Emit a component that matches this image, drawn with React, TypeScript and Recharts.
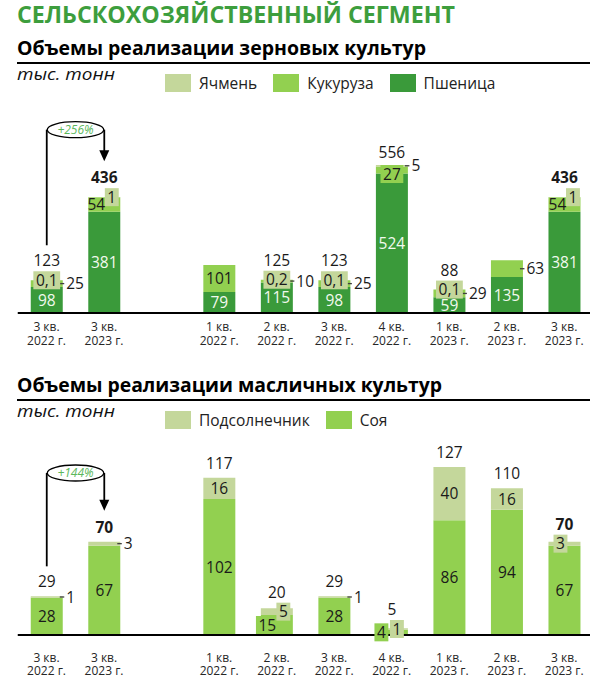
import React from "react";
import { Bar, BarChart, LabelList, XAxis, YAxis } from "recharts";

// ---- values (thousand tonnes) ----
const quarters = ["3 кв.", "3 кв.", "", "1 кв.", "2 кв.", "3 кв.", "4 кв.", "1 кв.", "2 кв.", "3 кв."];
const years = ["2022 г.", "2023 г.", "", "2022 г.", "2022 г.", "2022 г.", "2022 г.", "2023 г.", "2023 г.", "2023 г."];

const wheat = [98, 381, null, 79, 115, 98, 524, 59, 135, 381];
const corn = [25, 54, null, 101, 10, 25, 27, 29, 63, 54];
const barley = [0.1, 1, null, 0, 0.2, 0.1, 5, 0.1, 0, 1];
const grainTotals = [123, 436, null, 180, 125, 123, 556, 88, 198, 436];

const soy = [28, 67, null, 102, 15, 28, 4, 86, 94, 67];
const sunflower = [1, 3, null, 16, 5, 1, 1, 40, 16, 3];
const oilTotals = [29, 70, null, 117, 20, 29, 5, 127, 110, 70];

const grainGrowth = "+256%";
const oilGrowth = "+144%";

// ---- look ----
const FONT = '"Open Sans", "DejaVu Sans", sans-serif';
const C_TITLE = "#3d9e3d";
const C_WHEAT = "#3a9a3a";
const C_CORN = "#92d050";
const C_PALE = "#c4d79b";
const C_NOTE = "#5cb85c";
const INK = "#1a1a1a";

const CHART_W = 593; // last band runs a few px past the page edge, clipped
const MARGIN_L = 17.75;
const STEP = (CHART_W - MARGIN_L) / quarters.length;
const BAR_W = 32;
const BOX_H = 18;
const FS = 15.5;

type Mode = "in" | "right" | "box" | "none";
interface Spot { m: Mode; dx?: number; dy?: number }
const IN: Spot = { m: "in" };
const RIGHT: Spot = { m: "right" };
const BOX: Spot = { m: "box" };
const NO: Spot = { m: "none" };

// where each segment's value label sits (hand-placed on the slide)
const wheatSpots = quarters.map(() => IN);
const cornSpots: Spot[] = [RIGHT, { m: "in", dx: -8 }, NO, IN, RIGHT, RIGHT, { m: "box", dy: 4 }, RIGHT, RIGHT, { m: "in", dx: -7 }];
const barleySpots: Spot[] = [BOX, { m: "box", dx: 7.5 }, NO, NO, BOX, BOX, RIGHT, BOX, NO, { m: "box", dx: 8.5 }];
const soySpots: Spot[] = [IN, IN, NO, IN, { m: "box", dx: -9.5 }, IN, { m: "box", dx: -10.5 }, IN, IN, IN];
const sunSpots: Spot[] = [RIGHT, RIGHT, NO, IN, { m: "box", dx: 6.5 }, RIGHT, { m: "box", dx: 5 }, IN, IN, { m: "box", dx: -4 }];

interface Series {
  key: string;
  name: string;
  color: string;
  values: (number | null)[];
  spots: Spot[];
  ink: string;
}

interface Cfg {
  top: number; // page y of the chart svg
  height: number;
  axisY: number; // svg y of the category axis
  plotH: number;
  yMax: number;
  series: Series[]; // bottom -> top of the stack
  totals: (number | null)[];
  gap: number;
  bold: number[];
  note: { from: number; to: number; y: number; text: string };
  tick1: number;
  tick2: number;
}

const grainSeries: Series[] = [
  { key: "wheat", name: "Пшеница", color: C_WHEAT, values: wheat, spots: wheatSpots, ink: "#f2f9ee" },
  { key: "corn", name: "Кукуруза", color: C_CORN, values: corn, spots: cornSpots, ink: INK },
  { key: "barley", name: "Ячмень", color: C_PALE, values: barley, spots: barleySpots, ink: INK },
];

const oilSeries: Series[] = [
  { key: "soy", name: "Соя", color: C_CORN, values: soy, spots: soySpots, ink: INK },
  { key: "sunflower", name: "Подсолнечник", color: C_PALE, values: sunflower, spots: sunSpots, ink: INK },
];

const grainCfg: Cfg = {
  top: 95, height: 265, axisY: 218, plotH: 159.6, yMax: 600,
  series: grainSeries, totals: grainTotals, gap: 7, bold: [1, 9],
  note: { from: 0, to: 1, y: 34.7, text: grainGrowth },
  tick1: 17.5, tick2: 31.5,
};

const oilCfg: Cfg = {
  top: 430, height: 260, axisY: 205, plotH: 186.7, yMax: 140,
  series: oilSeries, totals: oilTotals, gap: 9, bold: [1, 9],
  note: { from: 0, to: 1, y: 43, text: oilGrowth },
  tick1: 26.5, tick2: 40,
};

const fmt = (v: number) => String(v).replace(".", ",");
const textW = (s: string) => s.split("").reduce((w, c) => w + (c === "," ? 4 : 8.9), 0);

// label geometry; the category index comes from the bar's band (LabelList skips empty rows)
function geom(props: any) {
  const vb = props.viewBox ?? props;
  const x = Number(vb.x);
  const w = Number(vb.width);
  const top = Math.min(vb.y, vb.y + vb.height);
  const h = Math.abs(vb.height);
  const i = Math.round((x + w / 2 - MARGIN_L) / STEP - 0.5);
  return { x, w, top, h, i };
}

const segLabel = (s: Series) => (props: any) => {
  const { x, w, top, h, i } = geom(props);
  const v = s.values[i];
  const spot = s.spots[i];
  if (v == null || !spot || spot.m === "none" || !isFinite(x)) return null;
  const txt = fmt(v);
  const cx = x + w / 2 + (spot.dx ?? 0);
  const cy = top + h / 2 + (spot.dy ?? 0);
  if (spot.m === "right") {
    return (
      <g>
        <line x1={x + w - 3} x2={x + w + 1.5} y1={cy} y2={cy} stroke="#404040" strokeWidth={1.3} />
        <text x={x + w + 3.5} y={cy} dy="0.36em" fontFamily={FONT} fontSize={FS} fill={INK}>{txt}</text>
      </g>
    );
  }
  if (spot.m === "box") {
    const bw = textW(txt) + 5;
    return (
      <g>
        <rect x={cx - bw / 2} y={cy - BOX_H / 2} width={bw} height={BOX_H} fill={s.color} />
        <text x={cx} y={cy} dy="0.36em" textAnchor="middle" fontFamily={FONT} fontSize={FS} fill={INK}>{txt}</text>
      </g>
    );
  }
  return (
    <text x={cx} y={cy} dy="0.36em" textAnchor="middle" fontFamily={FONT} fontSize={FS} fill={s.ink}>{txt}</text>
  );
};

const totalLabel = (cfg: Cfg) => (props: any) => {
  const { x, w, top, h, i } = geom(props);
  const total = cfg.totals[i];
  if (total == null || !isFinite(x)) return null;
  const spot = cfg.series[cfg.series.length - 1].spots[i];
  const cx = x + w / 2;
  let base = top - cfg.gap;
  if (spot && spot.m === "box") base = Math.min(base, top + h / 2 + (spot.dy ?? 0) - BOX_H / 2 - 5);
  const n = cfg.note;
  const half = (STEP * (n.to - n.from)) / 2;
  const tip = base - 22;
  return (
    <g>
      {i === n.from && <line x1={cx} x2={cx} y1={n.y} y2={base - 21} stroke="#000" strokeWidth={1.8} />}
      {i === n.to && (
        <g>
          <line x1={cx} x2={cx} y1={n.y} y2={tip - 10} stroke="#000" strokeWidth={1.8} />
          <polygon points={`${cx - 5},${tip - 11} ${cx + 5},${tip - 11} ${cx},${tip}`} fill="#000" />
          <ellipse cx={cx - half} cy={n.y} rx={half - 0.5} ry={8} fill="#fff" stroke="#000" strokeWidth={1.3} />
          <text x={cx - half} y={n.y} dy="0.35em" textAnchor="middle" fontFamily={FONT} fontStyle="italic" fontSize={12} fill={C_NOTE}>
            {n.text}
          </text>
        </g>
      )}
      <text x={cx} y={base} textAnchor="middle" fontFamily={FONT} fontSize={FS} fontWeight={cfg.bold.includes(i) ? 700 : 400} fill={INK}>
        {total}
      </text>
    </g>
  );
};

const quarterTick = (cfg: Cfg) => (props: any) => {
  const { x, payload } = props;
  const i = Number(payload.value);
  return (
    <text textAnchor="middle" fontFamily={FONT} fontSize={12} fill="#262626">
      <tspan x={x} y={cfg.axisY + cfg.tick1}>{quarters[i]}</tspan>
      <tspan x={x} y={cfg.axisY + cfg.tick2}>{years[i]}</tspan>
    </text>
  );
};

function StackChart({ cfg }: { cfg: Cfg }) {
  const rows = quarters.map((_, i) => {
    const r: Record<string, number | null> = { id: i };
    cfg.series.forEach((s) => (r[s.key] = s.values[i]));
    return r;
  });
  const last = cfg.series.length - 1;
  return (
    <div style={{ position: "absolute", left: 0, top: cfg.top, width: 590, height: cfg.height, overflow: "hidden" }}>
      <BarChart
        width={CHART_W}
        height={cfg.height}
        data={rows}
        barSize={BAR_W}
        margin={{ top: cfg.axisY - cfg.plotH, right: 0, left: MARGIN_L, bottom: 0 }}
      >
        <XAxis
          dataKey="id"
          height={cfg.height - cfg.axisY}
          interval={0}
          tickLine={false}
          axisLine={{ stroke: "#000", strokeWidth: 2 }}
          tick={quarterTick(cfg)}
        />
        <YAxis hide domain={[0, cfg.yMax]} allowDataOverflow />
        {cfg.series.map((s, k) => (
          <Bar key={s.key} dataKey={s.key} stackId="a" fill={s.color} isAnimationActive={false}>
            <LabelList dataKey={s.key} content={segLabel(s)} />
            {k === last && <LabelList dataKey={s.key} content={totalLabel(cfg)} />}
          </Bar>
        ))}
      </BarChart>
    </div>
  );
}

function Legend({ top, series }: { top: number; series: Series[] }) {
  return (
    <div style={{ position: "absolute", left: 165, top, display: "flex", fontFamily: FONT, fontSize: 15.5, lineHeight: "18px", color: "#222" }}>
      {[...series].reverse().map((s) => (
        <div key={s.key} style={{ display: "flex", marginRight: 16 }}>
          <span style={{ width: 26, height: 18, background: s.color, marginRight: 8 }} />
          <span style={{ whiteSpace: "nowrap" }}>{s.name}</span>
        </div>
      ))}
    </div>
  );
}

function Header({ y0, title, titleW }: { y0: number; title: string; titleW: number }) {
  return (
    <g>
      <text x={17} y={y0 + 55} fontFamily={FONT} fontWeight={700} fontSize={19} fill="#000" textLength={titleW} lengthAdjust="spacingAndGlyphs">
        {title}
      </text>
      <line x1={17} x2={590} y1={y0 + 63} y2={y0 + 63} stroke="#000" strokeWidth={2} />
      <text x={17} y={y0 + 80} fontFamily={FONT} fontStyle="italic" fontSize={17} fill="#111" textLength={98} lengthAdjust="spacingAndGlyphs">
        тыс. тонн
      </text>
    </g>
  );
}

export default function App() {
  return (
    <div style={{ position: "absolute", left: 0, top: 0, width: 590, height: 690, overflow: "hidden", background: "#fff" }}>
      <svg width={590} height={690} style={{ position: "absolute", left: 0, top: 0 }}>
        <text x={17} y={23} fontFamily={FONT} fontWeight={700} fontSize={24} fill={C_TITLE} textLength={438} lengthAdjust="spacingAndGlyphs">
          СЕЛЬСКОХОЗЯЙСТВЕННЫЙ СЕГМЕНТ
        </text>
        <Header y0={0} title="Объемы реализации зерновых культур" titleW={409} />
        <Header y0={337} title="Объемы реализации масличных культур" titleW={425} />
      </svg>
      <Legend top={74} series={grainSeries} />
      <Legend top={411} series={oilSeries} />
      <StackChart cfg={grainCfg} />
      <StackChart cfg={oilCfg} />
    </div>
  );
}
